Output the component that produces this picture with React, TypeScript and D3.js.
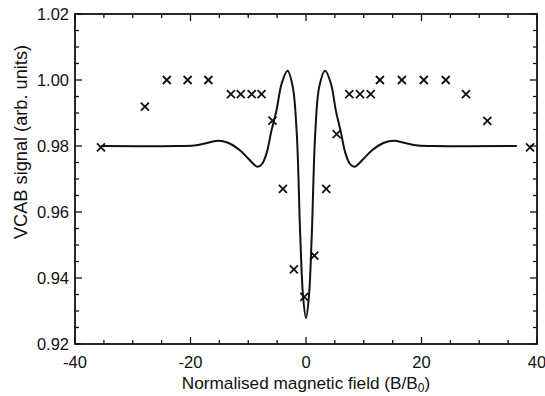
import React from "react";
import * as d3 from "d3";

const W = 545;
const H = 396;
const M = { left: 75, right: 8, top: 14, bottom: 52 };

const xTicksMajor = [-40, -20, 0, 20, 40];
const xTickLabels = ["-40", "-20", "0", "20", "40"];
const yTicksMajor = [0.92, 0.94, 0.96, 0.98, 1.0, 1.02];
const yTickLabels = ["0.92", "0.94", "0.96", "0.98", "1.00", "1.02"];

// measured data (crosses)
const dataX = [-35.5, -27.9, -24.1, -20.5, -16.9, -13.0, -11.3, -9.4, -7.7, -5.8, -4.0, -2.1, -0.3, 1.45, 3.5, 5.3, 7.5, 9.35, 11.2, 12.8, 16.6, 20.4, 24.2, 27.7, 31.4, 38.8];
const dataY = [0.9796, 0.9919, 1.0, 1.0, 1.0, 0.9957, 0.9957, 0.9957, 0.9957, 0.9877, 0.967, 0.9426, 0.9343, 0.9468, 0.967, 0.9836, 0.9957, 0.9957, 0.9957, 1.0, 1.0, 1.0, 1.0, 0.9957, 0.9876, 0.9796];

// theoretical curve
const curveX = [-35.5, -22, -19, -17, -15.2, -13.5, -11.5, -10, -9, -8.4, -7.6, -6.8, -6.0, -5.1, -4.2, -3.2, -2.3, -1.6, -1.0, -0.5, 0, 0.5, 1.0, 1.6, 2.3, 3.3, 4.3, 5.2, 6.0, 6.8, 7.6, 8.4, 9, 10, 11.5, 13.5, 15.2, 17, 19, 22, 36.5];
const curveY = [0.98, 0.98, 0.9802, 0.981, 0.9816, 0.981, 0.9788, 0.9762, 0.9744, 0.9737, 0.9746, 0.978, 0.9845, 0.9909, 0.999, 1.0028, 0.998, 0.9838, 0.953, 0.9343, 0.9278, 0.9343, 0.953, 0.9838, 0.998, 1.0028, 0.999, 0.9905, 0.9845, 0.978, 0.9746, 0.9737, 0.9744, 0.9762, 0.9788, 0.981, 0.9816, 0.981, 0.9802, 0.98, 0.98];

export default function App() {
  const x = d3.scaleLinear().domain([-40, 40]).range([M.left, W - M.right]);
  const y = d3.scaleLinear().domain([0.92, 1.02]).range([H - M.bottom, M.top]);
  const x0 = x.range()[0], x1 = x.range()[1];
  const y0 = y.range()[0], y1 = y.range()[1];

  const pts: [number, number][] = curveX.map((v, i) => [v, curveY[i]]);
  const line = d3
    .line<[number, number]>()
    .x((d) => x(d[0]))
    .y((d) => y(d[1]))
    .curve(d3.curveCatmullRom.alpha(0.5));

  const xMinor = d3.range(-40, 40.001, 5);
  const yMinor = d3.range(0.92, 1.0201, 0.005);
  const major = 7;
  const minor = 4;
  const font = "'Liberation Sans', Arial, sans-serif";
  const s = 4;

  return (
    <svg width={W} height={H} style={{ position: "absolute", left: 0, top: 0, background: "#fff" }}>
      <g stroke="#111" strokeWidth={1.3}>
        {xMinor.map((t) => {
          const isMajor = Math.abs(t % 20) < 1e-6;
          const l = isMajor ? major : minor;
          return (
            <g key={"x" + t}>
              <line x1={x(t)} x2={x(t)} y1={y0} y2={y0 - l} />
              <line x1={x(t)} x2={x(t)} y1={y1} y2={y1 + l} />
            </g>
          );
        })}
        {yMinor.map((t, i) => {
          const isMajor = i % 4 === 0;
          const l = isMajor ? major : minor;
          return (
            <g key={"y" + i}>
              <line x1={x0} x2={x0 + l} y1={y(t)} y2={y(t)} />
              <line x1={x1} x2={x1 - l} y1={y(t)} y2={y(t)} />
            </g>
          );
        })}
      </g>
      <rect x={x0} y={y1} width={x1 - x0} height={y0 - y1} fill="none" stroke="#111" strokeWidth={1.8} />
      <path d={line(pts) || ""} fill="none" stroke="#111" strokeWidth={2} />
      <g stroke="#111" strokeWidth={1.8}>
        {dataX.map((v, i) => (
          <g key={"d" + i}>
            <line x1={x(v) - s} x2={x(v) + s} y1={y(dataY[i]) - s} y2={y(dataY[i]) + s} />
            <line x1={x(v) - s} x2={x(v) + s} y1={y(dataY[i]) + s} y2={y(dataY[i]) - s} />
          </g>
        ))}
      </g>
      <g fontFamily={font} fontSize={16.5} fill="#111">
        {xTicksMajor.map((t, i) => (
          <text key={"xl" + t} x={x(t)} y={368} textAnchor="middle">
            {xTickLabels[i]}
          </text>
        ))}
        {yTicksMajor.map((t, i) => (
          <text key={"yl" + t} x={69} y={y(t) + 6} textAnchor="end">
            {yTickLabels[i]}
          </text>
        ))}
        <text x={306} y={389} textAnchor="middle" fontSize={17.2}>
          Normalised magnetic field (B/B<tspan fontSize={12} dy={3}>0</tspan>
          <tspan dy={-3}>)</tspan>
        </text>
        <text transform={`translate(27,142) rotate(-90)`} textAnchor="middle" fontSize={18.2}>
          VCAB signal (arb. units)
        </text>
      </g>
    </svg>
  );
}
